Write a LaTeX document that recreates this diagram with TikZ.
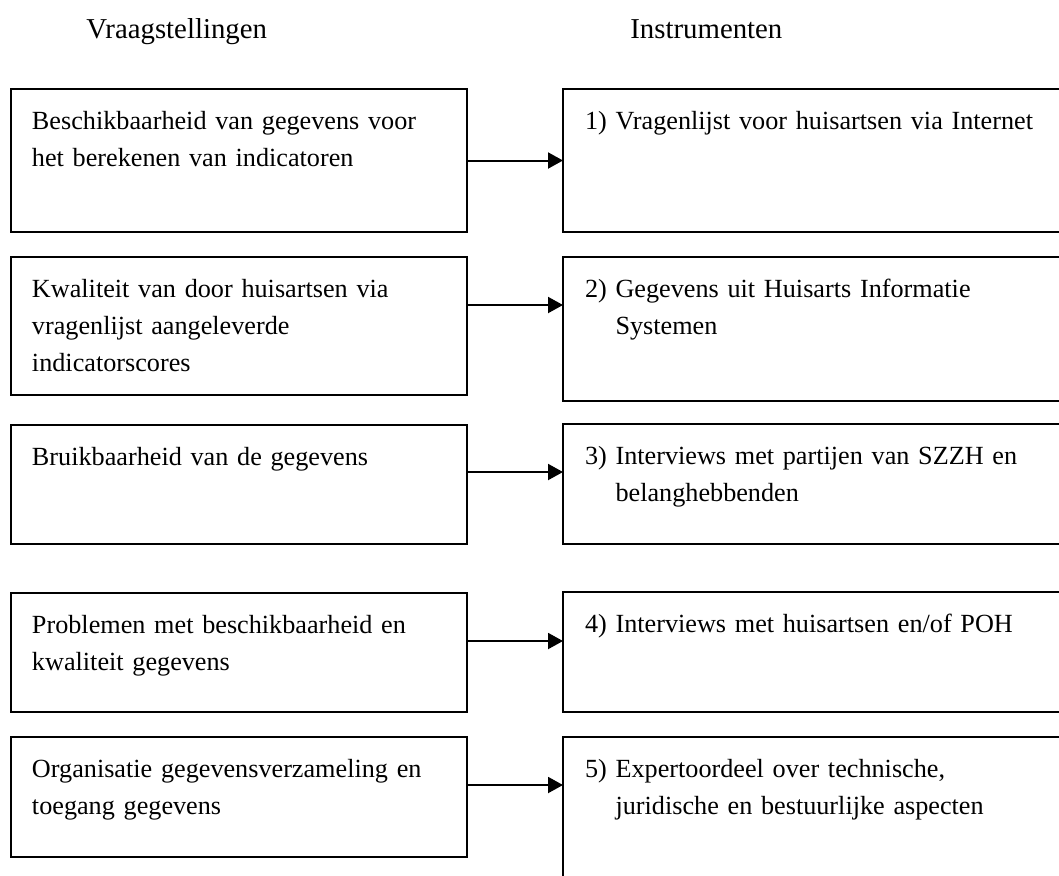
\documentclass[tikz,border=0pt]{standalone}
\usepackage{fontspec}
\setmainfont{Liberation Serif}
\usetikzlibrary{arrows.meta}

\begin{document}
\begin{tikzpicture}[
    x=0.5pt,
    y=-0.5pt,
    kop/.style={
        inner sep=0pt,
        anchor=base west,
        font=\fontsize{14.4pt}{17pt}\selectfont
    },
    vraag/.style={
        rectangle,
        draw=black,
        line width=1.2pt,
        anchor=north west,
        outer sep=0pt,
        inner xsep=10.5pt,
        inner ysep=0pt,
        text width=207pt,
        text height=20pt,
        text depth=#1,
        align=left,
        font=\fontsize{13.1pt}{18.5pt}\selectfont
    },
    instrument/.style={
        rectangle,
        draw=black,
        line width=1.2pt,
        anchor=north west,
        outer sep=0pt,
        inner xsep=11pt,
        inner ysep=0pt,
        text width=248pt,
        text height=20pt,
        text depth=#1,
        align=left,
        font=\fontsize{13.1pt}{18.5pt}\selectfont
    },
    pijl/.style={
        -{Triangle[length=7.5pt,width=8pt]},
        line width=1pt
    }
]

\clip (0,0) rectangle (1059,875);

% Headings
\node[kop] (kopvraag) at (86,38) {Vraagstellingen};
\node[kop] (kopinstr) at (630,38) {Instrumenten};

% Questions
\node[vraag=51.5pt] (vraag1) at (11,89) {Beschikbaarheid van gegevens voor\\het berekenen van indicatoren};
\node[vraag=49pt] (vraag2) at (11,257) {Kwaliteit van door huisartsen via\\vragenlijst aangeleverde\\indicatorscores};
\node[vraag=39.5pt] (vraag3) at (11,425) {Bruikbaarheid van de gegevens};
\node[vraag=39.5pt] (vraag4) at (11,593) {Problemen met beschikbaarheid en\\kwaliteit gegevens};
\node[vraag=40pt] (vraag5) at (11,737) {Organisatie gegevensverzameling en\\toegang gegevens};

% Instruments
\node[instrument=51.5pt] (instr1) at (563,89) {1) Vragenlijst voor huisartsen via Internet};
\node[instrument=52pt] (instr2) at (563,257) {2) Gegevens uit Huisarts Informatie\\\phantom{2) }Systemen};
\node[instrument=40pt] (instr3) at (563,424) {3) Interviews met partijen van SZZH en\\\phantom{3) }belanghebbenden};
\node[instrument=40pt] (instr4) at (563,592) {4) Interviews met huisartsen en/of POH};
\node[instrument=100pt] (instr5) at (563,737) {5) Expertoordeel over technische,\\\phantom{5) }juridische en bestuurlijke aspecten};

% Arrows
\draw[pijl] (vraag1.east) -- (vraag1.east -| instr1.west);
\draw[pijl] ([yshift=10.5pt]vraag2.east) -- ([yshift=10.5pt]vraag2.east -| instr2.west);
\draw[pijl] ([yshift=6.25pt]vraag3.east) -- ([yshift=6.25pt]vraag3.east -| instr3.west);
\draw[pijl] ([yshift=5.75pt]vraag4.east) -- ([yshift=5.75pt]vraag4.east -| instr4.west);
\draw[pijl] ([yshift=6pt]vraag5.east) -- ([yshift=6pt]vraag5.east -| instr5.west);

\end{tikzpicture}
\end{document}
